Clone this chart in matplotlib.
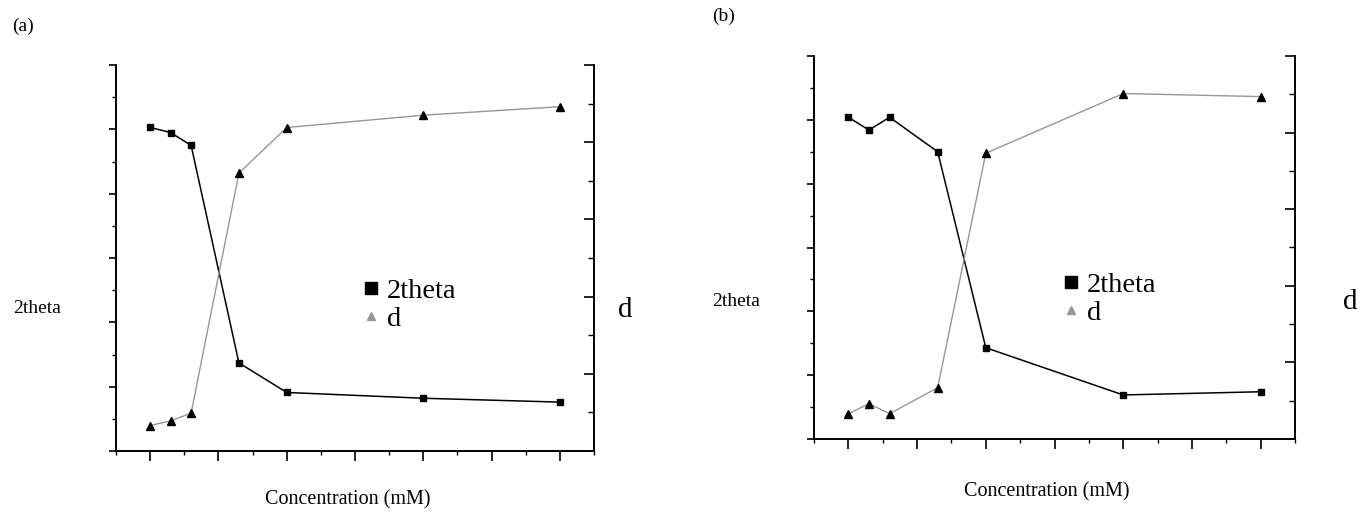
import matplotlib
matplotlib.use('agg')
import matplotlib.pyplot as plt
from matplotlib.lines import Line2D
from matplotlib.ticker import MultipleLocator

plt.rcParams['font.family'] = ['Liberation Serif', 'DejaVu Serif']

# values (no tick labels, arbitrary units)
conc = [0, 0.3, 0.6, 1.3, 2, 4, 6]
theta_a = [5.03, 4.95, 4.75, 1.37, 0.91, 0.82, 0.76]
d_a = [0.33, 0.39, 0.49, 3.60, 4.19, 4.35, 4.46]
theta_b = [5.04, 4.84, 5.04, 4.50, 1.43, 0.69, 0.74]
d_b = [0.33, 0.46, 0.33, 0.67, 3.73, 4.51, 4.47]

W, H = 1360, 512
fig = plt.figure(figsize=(W / 100, H / 100), dpi=100)


def px_axes(left, top, right, bottom):
    return fig.add_axes([left / W, 1 - bottom / H, (right - left) / W, (bottom - top) / H])


def panel(rect, theta, d, ylab_pos, dlab_pos, xlab_y, leg_pos):
    ax = px_axes(*rect)
    ax2 = ax.twinx()

    ax.plot(conc, theta, '-s', color='k', lw=1.1, ms=5, zorder=3)
    ax2.plot(conc, d, '-^', color='#969696', lw=1.0, ms=6,
             mfc='k', mec='k', zorder=3)

    ax.set_xlim(-0.5, 6.5)
    ax.set_ylim(0, 6)
    ax2.set_ylim(0, 5)
    ax.xaxis.set_major_locator(MultipleLocator(1))
    ax.xaxis.set_minor_locator(MultipleLocator(0.5))
    ax.yaxis.set_major_locator(MultipleLocator(1))
    ax.yaxis.set_minor_locator(MultipleLocator(0.5))
    ax2.yaxis.set_major_locator(MultipleLocator(1))
    ax2.yaxis.set_minor_locator(MultipleLocator(0.5))

    for a in (ax, ax2):
        a.spines['top'].set_visible(False)
        for s in a.spines.values():
            s.set_linewidth(1.4)
    ax.spines['right'].set_visible(False)
    ax2.spines['left'].set_visible(False)
    ax2.spines['bottom'].set_visible(False)

    ax.tick_params(axis='x', which='major', direction='out', length=7, width=1.2)
    ax.tick_params(axis='x', which='minor', direction='out', length=3, width=1)
    ax.tick_params(axis='y', which='major', direction='out', length=5, width=1.2)
    ax.tick_params(axis='y', which='minor', direction='out', length=3, width=1)
    ax2.tick_params(axis='y', which='major', direction='in', length=7, width=1.2)
    ax2.tick_params(axis='y', which='minor', direction='in', length=4, width=1)
    ax.tick_params(labelbottom=False, labelleft=False)
    ax2.tick_params(labelright=False)

    ax.set_ylabel('2theta', rotation=0, fontsize=14, ha='center', va='center')
    ax.yaxis.set_label_coords(*ylab_pos)
    ax2.set_ylabel('d', rotation=0, fontsize=21, ha='center', va='center')
    ax2.yaxis.set_label_coords(*dlab_pos)
    ax.set_xlabel('Concentration (mM)', fontsize=14.5)
    ax.xaxis.label.set_va('center')
    ax.xaxis.set_label_coords(0.484, xlab_y)

    handles = [Line2D([], [], ls='none', marker='s', color='k', ms=8),
               Line2D([], [], ls='none', marker='^', color='#969696', ms=6)]
    ax2.legend(handles, ['2theta', 'd'], loc='center left',
               bbox_to_anchor=(leg_pos[0] / W, 1 - leg_pos[1] / H),
               bbox_transform=fig.transFigure, frameon=False, fontsize=20.5,
               handlelength=0.5, handletextpad=0.3, labelspacing=0.08,
               borderpad=0, borderaxespad=0)
    return ax


panel((116, 65, 594, 451), theta_a, d_a, (-0.165, 0.368), (1.065, 0.365), -0.127, (364, 305))
panel((814, 56, 1295, 439), theta_b, d_b, (-0.162, 0.358), (1.114, 0.358), -0.138, (1064, 299))

fig.text(12, H - 26, '(a)', fontsize=14, ha='left', va='center', transform=None)
fig.text(712, H - 16, '(b)', fontsize=14, ha='left', va='center', transform=None)

fig.savefig('out.png', dpi=100)
